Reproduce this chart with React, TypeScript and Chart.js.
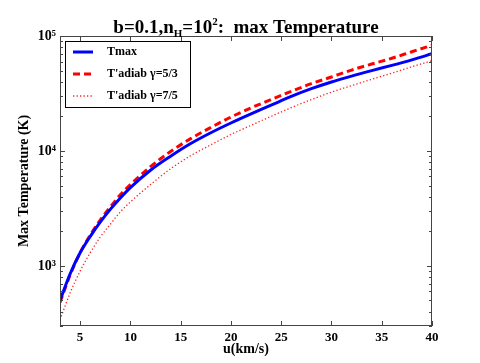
import React, { useEffect, useRef } from "react";
import { Chart, registerables } from "chart.js";

Chart.register(...registerables);

const U = [3, 4, 5, 6, 7, 8, 9, 10, 12, 14, 16, 18, 20, 22, 24, 26, 28, 30, 32, 34, 36, 38, 40];
const TMAX = [500, 850, 1300, 1800, 2400, 3100, 3900, 4800, 6800, 9000, 11600, 14400, 17500, 21000, 25000, 29800, 34800, 39800, 44800, 50000, 55500, 62000, 70000];
const TADIAB_53 = [480, 830, 1300, 1850, 2500, 3250, 4150, 5100, 7300, 9900, 12800, 16000, 19700, 23700, 28000, 33000, 38500, 44000, 50500, 57000, 64000, 73000, 83000];
const TADIAB_75 = [340, 580, 900, 1300, 1780, 2300, 2950, 3600, 5100, 7000, 9100, 11300, 13900, 16700, 20000, 23800, 28000, 32500, 37000, 42000, 47500, 54000, 61000];

const SERIES_LABELS = ["Tmax", "T'adiab γ=5/3", "T'adiab γ=7/5"];
const X_TICKS = [5, 10, 15, 20, 25, 30, 35, 40];
const Y_TICKS = [1000, 10000, 100000];
const Y_TICK_LABELS = ["10³", "10⁴", "10⁵"];
const X_MIN = 3, X_MAX = 40, Y_MIN = 300, Y_MAX = 100000;

const SERIF = '"Liberation Serif", "Times New Roman", serif';

const overlayPlugin = {
  id: "overlay",
  afterDraw(chart: any) {
    const ctx = chart.ctx;
    const { left, right, top, bottom } = chart.chartArea;
    const xs = chart.scales.x;
    const ys = chart.scales.y;
    ctx.save();
    // box
    ctx.strokeStyle = "#444";
    ctx.lineWidth = 1;
    ctx.strokeRect(left + 0.5, top + 0.5, right - left - 1, bottom - top - 1);
    // x ticks
    ctx.beginPath();
    X_TICKS.forEach((v) => {
      const px = Math.round(xs.getPixelForValue(v)) + 0.5;
      ctx.moveTo(px, bottom); ctx.lineTo(px, bottom - 5);
      ctx.moveTo(px, top); ctx.lineTo(px, top + 5);
    });
    // y ticks (major + minor)
    for (let e = 2; e <= 5; e++) {
      for (let k = 1; k <= 9; k++) {
        const v = k * Math.pow(10, e);
        if (v < Y_MIN || v > Y_MAX) continue;
        const len = k === 1 ? 5 : 3;
        const py = Math.round(ys.getPixelForValue(v)) + 0.5;
        ctx.moveTo(left, py); ctx.lineTo(left + len, py);
        ctx.moveTo(right, py); ctx.lineTo(right - len, py);
      }
    }
    ctx.stroke();

    // title
    const big = `bold 19px ${SERIF}`;
    const small = `bold 11px ${SERIF}`;
    const parts = [
      { t: "b=0.1,n", f: big, dy: 0 },
      { t: "H", f: small, dy: 4 },
      { t: "=10", f: big, dy: 0 },
      { t: "2", f: small, dy: -8 },
      { t: ":  max Temperature", f: big, dy: 0 },
    ];
    let total = 0;
    parts.forEach((p) => { ctx.font = p.f; total += ctx.measureText(p.t).width; });
    let x = (left + right) / 2 - total / 2;
    ctx.fillStyle = "#000";
    ctx.textBaseline = "alphabetic";
    ctx.textAlign = "left";
    parts.forEach((p) => {
      ctx.font = p.f;
      ctx.fillText(p.t, x, 33 + p.dy);
      x += ctx.measureText(p.t).width;
    });

    // legend
    const lx = left + 5, ly = top + 5, lw = 125, lh = 66;
    ctx.fillStyle = "#fff";
    ctx.fillRect(lx, ly, lw, lh);
    ctx.strokeStyle = "#000";
    ctx.lineWidth = 1;
    ctx.setLineDash([]);
    ctx.strokeRect(lx + 0.5, ly + 0.5, lw, lh);
    const rows = [ly + 11, ly + 33, ly + 55];
    chart.data.datasets.forEach((ds: any, i: number) => {
      const ry = rows[i];
      ctx.save();
      ctx.strokeStyle = ds.borderColor;
      ctx.lineWidth = ds.borderWidth;
      ctx.setLineDash(ds.borderDash || []);
      ctx.beginPath();
      ctx.moveTo(lx + 8, ry); ctx.lineTo(lx + 28, ry);
      ctx.stroke();
      ctx.restore();
      ctx.fillStyle = "#000";
      ctx.font = `bold 12px ${SERIF}`;
      ctx.textBaseline = "middle";
      ctx.fillText(ds.label, lx + 42, ry);
    });
    ctx.restore();
  },
};

export default function App() {
  const ref = useRef<HTMLCanvasElement>(null);
  useEffect(() => {
    const toPts = (arr: number[]) => U.map((u, i) => ({ x: u, y: arr[i] }));
    const common = { pointRadius: 0, cubicInterpolationMode: "monotone" as const, fill: false };
    const chart = new Chart(ref.current!, {
      type: "line",
      data: {
        datasets: [
          { label: SERIES_LABELS[0], data: toPts(TMAX), borderColor: "#0000ff", borderWidth: 3, ...common },
          { label: SERIES_LABELS[1], data: toPts(TADIAB_53), borderColor: "#ff0000", borderWidth: 3, borderDash: [7, 4], ...common },
          { label: SERIES_LABELS[2], data: toPts(TADIAB_75), borderColor: "#ff2020", borderWidth: 1.3, borderDash: [1.3, 2.2], ...common },
        ],
      },
      options: {
        animation: false,
        responsive: false,
        layout: { padding: { left: 0, right: 48, top: 36, bottom: 0 } },
        plugins: { legend: { display: false }, title: { display: false }, tooltip: { enabled: false } },
        scales: {
          x: {
            type: "linear",
            min: X_MIN,
            max: X_MAX,
            afterBuildTicks: (s: any) => { s.ticks = X_TICKS.map((v) => ({ value: v })); },
            afterFit: (s: any) => { s.height = 37; },
            grid: { display: false },
            border: { display: false },
            ticks: { color: "#000", font: { family: SERIF, size: 13, weight: "bold" }, padding: -4, maxRotation: 0 },
            title: { display: true, text: "u(km/s)", color: "#000", font: { family: SERIF, size: 14, weight: "bold" }, padding: { top: 0, bottom: 5 } },
          },
          y: {
            type: "logarithmic",
            min: Y_MIN,
            max: Y_MAX,
            afterBuildTicks: (s: any) => { s.ticks = Y_TICKS.map((v) => ({ value: v })); },
            afterFit: (s: any) => { s.width = 60; },
            grid: { display: false },
            border: { display: false },
            ticks: {
              color: "#000",
              font: { family: SERIF, size: 14, weight: "bold" },
              padding: -4,
              callback: (v: any) => { const i = Y_TICKS.indexOf(Number(v)); return i >= 0 ? Y_TICK_LABELS[i] : ""; },
            },
            title: { display: true, text: "Max Temperature (K)", color: "#000", font: { family: SERIF, size: 14, weight: "bold" }, padding: { top: 16, bottom: 0 } },
          },
        },
      },
      plugins: [overlayPlugin],
    });
    return () => chart.destroy();
  }, []);
  return (
    <div style={{ position: "fixed", left: 0, top: 0, width: 480, height: 363, background: "#fff" }}>
      <canvas ref={ref} width={480} height={363} />
    </div>
  );
}
